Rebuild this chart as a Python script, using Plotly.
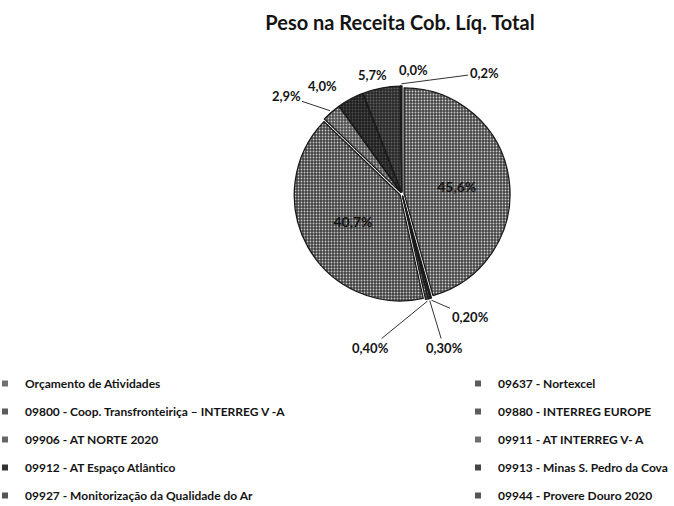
import math
import plotly.graph_objects as go

# Share of each cost centre in total net revenue (clockwise from 12 o'clock)
labels = [
    "Orçamento de Atividades",
    "09637 - Nortexcel",
    "09800 - Coop. Transfronteiriça – INTERREG V -A",
    "09880 - INTERREG EUROPE",
    "09906 - AT NORTE 2020",
    "09911 - AT INTERREG V- A",
    "09912 - AT Espaço Atlântico",
    "09913 - Minas S. Pedro da Cova",
    "09927 - Monitorização da Qualidade do Ar",
    "09944 - Provere Douro 2020",
]
values = [45.6, 0.20, 0.30, 0.40, 40.7, 2.9, 4.0, 5.7, 0.0, 0.2]
value_text = ["45,6%", "0,20%", "0,30%", "0,40%", "40,7%",
              "2,9%", "4,0%", "5,7%", "0,0%", "0,2%"]

# Legend layout: two columns, filled row by row
legend_col = ["legend", "legend2"] * 5

# ---- styling -------------------------------------------------------------
W, H = 674, 506
font_family = "Lato, Open Sans, sans-serif"

colors = ["#444444", "#3a3a3a", "#3a3a3a", "#3a3a3a", "#404040",
          "#4e4e4e", "#1e1e1e", "#282828", "#363636", "#363636"]
speckle = ["#cdcdcd", "#b8b8b8", "#b8b8b8", "#b8b8b8", "#c8c8c8",
           "#c2c2c2", "#505050", "#626262", "#999999", "#999999"]
legend_colors = ["#707070", "#5c5c5c", "#5c5c5c", "#5c5c5c", "#666666",
                 "#6e6e6e", "#333333", "#444444", "#555555", "#555555"]
big = [v >= 20 for v in values]

# pie placement in pixels
cx, cy, r = 402, 194, 108
dom_x = [(cx - r) / W, (cx + r) / W]
dom_y = [1 - (cy + r) / H, 1 - (cy - r) / H]

# where each outside percentage label sits, and whether it has a leader line
label_pos = {1: (470, 317), 2: (444, 348), 3: (370, 348),
             5: (286, 96), 6: (322, 76), 7: (373, 65),
             8: (413, 60), 9: (484, 73)}
leader = {1: True, 2: True, 3: True, 5: True, 6: False, 7: False,
          8: False, 9: True}

fig = go.Figure()

fig.add_trace(
    go.Pie(
        labels=labels,
        values=values,
        text=[t if b else "" for t, b in zip(value_text, big)],
        textinfo="text",
        textposition="inside",
        sort=False,
        direction="clockwise",
        rotation=0,
        pull=[0.02] * len(values),
        marker=dict(
            colors=colors,
            line=dict(color="#1a1a1a", width=1.3),
            pattern=dict(shape=".", bgcolor=colors, fgcolor=speckle,
                         size=3, solidity=0.3, fillmode="replace"),
        ),
        insidetextfont=dict(family=font_family, size=14, color="#141414",
                            weight="bold"),
        domain=dict(x=dom_x, y=dom_y),
        hoverinfo="label+text",
        showlegend=False,
    )
)

# legend entries, one per slice, split over two columns
for name, col, c in zip(labels, legend_col, legend_colors):
    fig.add_trace(
        go.Scatter(
            x=[None], y=[None], mode="markers", name=name,
            legend=col, legendgroup=name,
            marker=dict(symbol="square", size=6, color=c),
            hoverinfo="skip",
        )
    )

# outside percentage labels, anchored to the edge of their slice
label_font = dict(family=font_family, size=13, color="#141414", weight="bold")
total = sum(values)
start = 0.0
annotations = []
for i, v in enumerate(values):
    span = v / total * 360.0
    mid = math.radians(start + span / 2)
    start += span
    if i not in label_pos:
        continue
    ex = cx + r * 1.02 * math.sin(mid)
    ey = cy - r * 1.02 * math.cos(mid)
    tx, ty = label_pos[i]
    if leader[i]:
        annotations.append(dict(
            x=ex / W, y=1 - ey / H, xref="paper", yref="paper",
            ax=tx - ex, ay=ty - ey, axref="pixel", ayref="pixel",
            text=value_text[i], showarrow=True, arrowhead=0,
            arrowwidth=1, arrowcolor="#333333", standoff=0,
            font=label_font,
        ))
    else:
        annotations.append(dict(
            x=tx / W, y=1 - ty / H, xref="paper", yref="paper",
            text=value_text[i], showarrow=False, font=label_font,
        ))

legend_style = dict(
    orientation="v",
    yanchor="top",
    y=1 - 369 / H,
    xanchor="left",
    traceorder="grouped",
    tracegroupgap=9,
    font=dict(family=font_family, size=12, color="#141414", weight="bold"),
    bgcolor="rgba(0,0,0,0)",
    itemclick=False,
)

fig.update_layout(
    width=W,
    height=H,
    margin=dict(l=0, r=0, t=0, b=0, autoexpand=False),
    paper_bgcolor="#ffffff",
    plot_bgcolor="#ffffff",
    xaxis=dict(visible=False),
    yaxis=dict(visible=False),
    title=dict(
        text="Peso na Receita Cob. Líq. Total",
        x=400 / W,
        xanchor="center",
        y=1 - 23 / H,
        yanchor="middle",
        font=dict(family=font_family, size=20, color="#141414", weight="bold"),
    ),
    legend=dict(legend_style, x=-15 / W),
    legend2=dict(legend_style, x=458 / W),
    annotations=annotations,
)

fig.write_html("out.html")
